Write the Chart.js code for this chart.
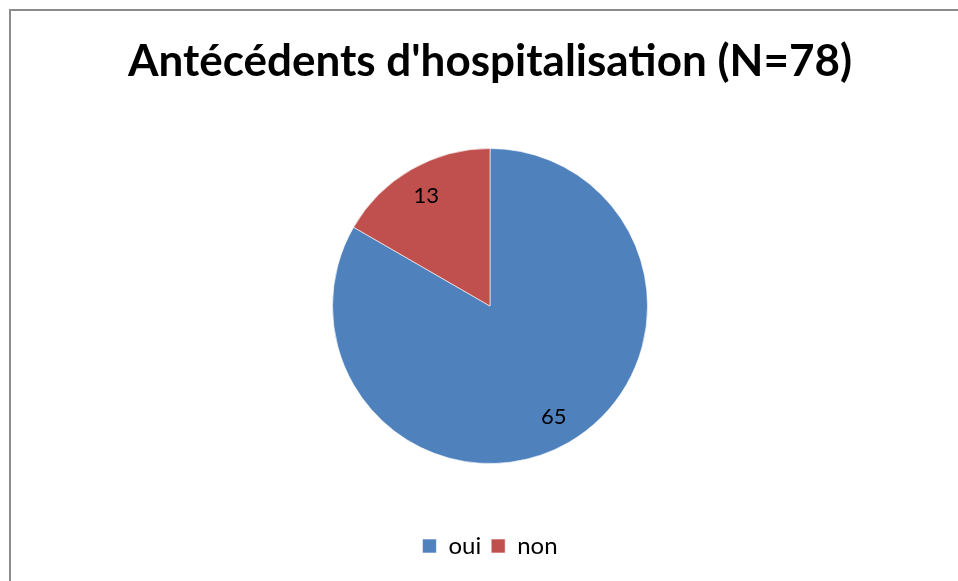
<!DOCTYPE html>
<html>
<head>
<meta charset="utf-8">
<script src="https://cdn.jsdelivr.net/npm/chart.js@4"></script>
<style>
  body { margin: 0; background: #fff; }
  #wrap { width: 958px; height: 581px; }
</style>
</head>
<body>
<div id="wrap"><canvas id="myChart"></canvas></div>
<script>
var labels = ['oui', 'non'];
var values = [65, 13];
var colors = ['#4F81BD', '#C0504D'];
var chartTitle = "Antécédents d'hospitalisation (N=78)";

// outer frame like the office chart border
var framePlugin = {
  id: 'frame',
  beforeDraw: function(chart) {
    var c = chart.ctx;
    c.save();
    c.fillStyle = '#fff';
    c.fillRect(0, 0, chart.width, chart.height);
    c.strokeStyle = '#8c8c8c';
    c.lineWidth = 2;
    c.strokeRect(10, 10, chart.width + 20, chart.height + 20);
    c.restore();
  }
};

// value labels inside the slices
var valuePlugin = {
  id: 'values',
  afterDatasetsDraw: function(chart) {
    var c = chart.ctx;
    var meta = chart.getDatasetMeta(0);
    c.save();
    c.font = '22px Lato, "Open Sans", sans-serif';
    c.fillStyle = '#000';
    c.textAlign = 'center';
    c.textBaseline = 'middle';
    meta.data.forEach(function(arc, i) {
      var p = arc.getProps(['x', 'y', 'startAngle', 'endAngle', 'outerRadius'], true);
      var mid = (p.startAngle + p.endAngle) / 2;
      var r = p.outerRadius * 0.81;
      c.fillText(String(values[i]), p.x + Math.cos(mid) * r, p.y + Math.sin(mid) * r);
    });
    c.restore();
  }
};

var ctx = document.getElementById('myChart').getContext('2d');
var myChart = new Chart(ctx, {
  type: 'pie',
  data: {
    labels: labels,
    datasets: [{
      data: values,
      backgroundColor: colors,
      borderColor: 'rgba(255,255,255,0.6)',
      borderWidth: 1,
      hoverOffset: 0
    }]
  },
  options: {
    responsive: true,
    maintainAspectRatio: false,
    animation: false,
    layout: {
      padding: { left: 22, right: 0, top: 0, bottom: 13 }
    },
    plugins: {
      title: {
        display: true,
        text: chartTitle,
        color: '#000',
        font: { family: 'Lato, "Open Sans", sans-serif', size: 44, weight: 'bold', lineHeight: 1.2 },
        padding: { top: 35.8, bottom: 59.4 }
      },
      legend: {
        position: 'bottom',
        title: {
          display: true,
          text: '',
          font: { size: 12, lineHeight: 1.2 },
          padding: { top: 45.6, bottom: 0 }
        },
        labels: {
          color: '#000',
          boxWidth: 14,
          boxHeight: 14,
          padding: 10,
          font: { family: 'Lato, "Open Sans", sans-serif', size: 24 }
        }
      },
      tooltip: { enabled: false }
    }
  },
  plugins: [framePlugin, valuePlugin]
});
</script>
</body>
</html>
